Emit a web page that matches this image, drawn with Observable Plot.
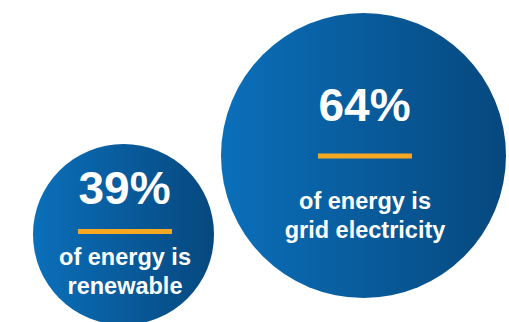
<!DOCTYPE html>
<html>
<head>
<meta charset="utf-8">
<script src="https://cdn.jsdelivr.net/npm/d3@7"></script>
<script src="https://cdn.jsdelivr.net/npm/@observablehq/plot@0.6"></script>
<style>
  html, body { margin: 0; padding: 0; background: #ffffff; }
  svg { display: block; }
</style>
</head>
<body>
<div id="chart"></div>
<script>
// Data
const categories = ["renewable", "grid electricity"];
const values = [39, 64];
const valueLabels = ["39%", "64%"];
const descLine1 = ["of energy is", "of energy is"];
const descLine2 = ["renewable", "grid electricity"];

const data = categories.map((c, i) => ({
  category: c,
  value: values[i],
  label: valueLabels[i],
  desc: descLine1[i] + "\n" + descLine2[i]
}));

const font = "'Liberation Sans', Arial, sans-serif";

// horizontal bar symbol for the orange divider
const barSymbol = { draw(context) { context.rect(-47, -2.5, 94, 5); } };

// per-circle vertical offsets (styling)
const offsets = [
  { pct: -30.5, bar: -3, desc: 59.5 },
  { pct: -34.5, bar: 0.5, desc: 82 }
];

const marks = [
  Plot.dot(data, {x: "category", y: "category", r: "value", fill: "url(#blueGrad)"})
];
data.forEach((d, i) => {
  const o = offsets[i];
  marks.push(
    Plot.text([d], {x: "category", y: "category", text: "label", fill: "white",
      fontSize: 46, fontWeight: "bold", fontFamily: font, lineAnchor: "bottom",
      dy: o.pct, dx: 1}),
    Plot.dot([d], {x: "category", y: "category", symbol: barSymbol, r: 10,
      fill: "#f7a823", dy: o.bar, dx: 1.5}),
    Plot.text([d], {x: "category", y: "category", text: "desc", fill: "white",
      fontSize: 23.5, fontWeight: "bold", fontFamily: font, lineAnchor: "bottom",
      lineHeight: 1.23, dy: o.desc, dx: 1.5})
  );
});

const chart = Plot.plot({
  width: 509,
  height: 322,
  margin: 0,
  x: {type: "point", domain: categories, range: [122.5, 362.5], padding: 0, axis: null},
  y: {type: "point", domain: categories, range: [233.5, 154.5], padding: 0, axis: null},
  r: {type: "linear", domain: [39, 64], range: [90.5, 142.5]},
  style: {background: "white", overflow: "hidden"},
  marks
});

const defs = d3.select(chart).insert("defs", ":first-child");
const grad = defs.append("linearGradient").attr("id", "blueGrad")
  .attr("x1", "0").attr("y1", "0").attr("x2", "1").attr("y2", "0");
grad.append("stop").attr("offset", "0").attr("stop-color", "#0b6fba");
grad.append("stop").attr("offset", "1").attr("stop-color", "#06487e");

document.getElementById("chart").appendChild(chart);
</script>
</body>
</html>
